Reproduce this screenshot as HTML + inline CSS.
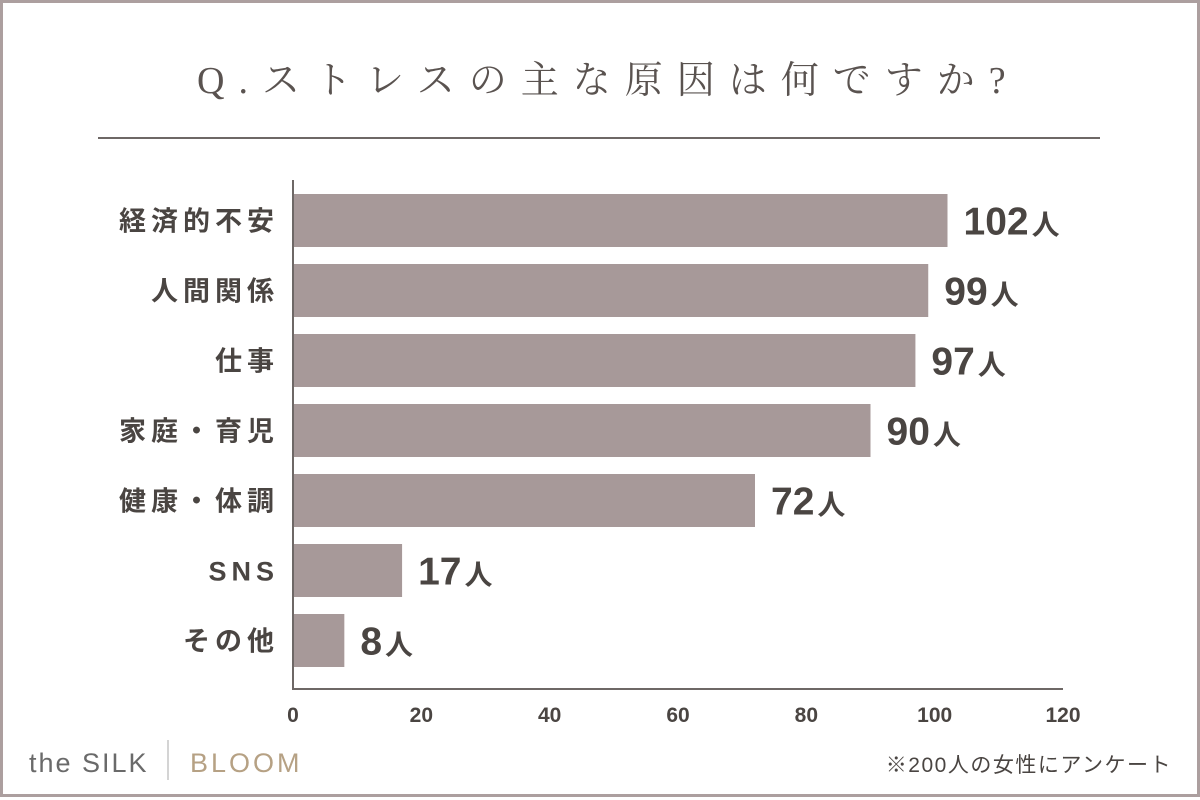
<!DOCTYPE html>
<html><head><meta charset="utf-8"><style>
html,body{margin:0;padding:0;background:#fff;width:1200px;height:800px;overflow:hidden}
svg{display:block}
</style></head><body>
<svg id="chart" width="1200" height="800" xmlns="http://www.w3.org/2000/svg">
<rect x="1.5" y="1.5" width="1197" height="794" fill="#fff" stroke="#ac9f9f" stroke-width="3"/>
<text x="197" y="93" font-family="'Liberation Serif','Noto Serif CJK SC',serif" font-size="38" letter-spacing="14" fill="#5a5350">Q.ストレスの主な原因は何ですか?</text>
<line x1="98" y1="138" x2="1100" y2="138" stroke="#6e6866" stroke-width="2"/>
<g id="bars"></g>
<line x1="293" y1="180" x2="293" y2="690" stroke="#6e6866" stroke-width="2"/>
<line x1="292" y1="689" x2="1063" y2="689" stroke="#6e6866" stroke-width="2"/>
<g id="ticks"></g>
<g>
<text x="29" y="772" font-family="'Liberation Sans',sans-serif" font-size="27" font-weight="300" letter-spacing="2" fill="#6a6a6a">the SILK</text>
<line x1="168" y1="740" x2="168" y2="780" stroke="#aaa" stroke-width="1"/>
<text x="190" y="772" font-family="'Liberation Sans',sans-serif" font-size="27" letter-spacing="3" fill="#b6a184">BLOOM</text>
</g>
<text x="1172" y="772" text-anchor="end" font-family="'Liberation Sans','Noto Sans CJK JP',sans-serif" font-size="21" letter-spacing="1.5" fill="#4a4542">※200人の女性にアンケート</text>
</svg>
<script>
const categories=["経済的不安","人間関係","仕事","家庭・育児","健康・体調","SNS","その他"];
const values=[102,99,97,90,72,17,8];
const xTicks=[0,20,40,60,80,100,120];
const NS="http://www.w3.org/2000/svg";
const x0=293,x1=1063,xMax=120;
function xs(v){return x0+(v/xMax)*(x1-x0);}
const top0=194,step=70,bh=53;
function ys(i){return top0+i*step;}
const gb=document.getElementById('bars');
categories.forEach((c,i)=>{
  const r=document.createElementNS(NS,'rect');
  
  
  r.setAttribute('x',x0);r.setAttribute('y',ys(i));
  r.setAttribute('width',xs(values[i])-x0);r.setAttribute('height',bh);
  r.setAttribute('fill','#a79999');gb.appendChild(r);
  const l=document.createElementNS(NS,'text');
  
  
  l.setAttribute('x',279);l.setAttribute('y',ys(i)+bh/2+10);
  l.setAttribute('text-anchor','end');
  l.setAttribute('font-family',"'Liberation Sans','Noto Sans CJK JP',sans-serif");
  l.setAttribute('font-size','27');l.setAttribute('font-weight','bold');
  l.setAttribute('letter-spacing','5');l.setAttribute('fill','#4a4542');
  l.textContent=c;gb.appendChild(l);
  const v=document.createElementNS(NS,'text');
  
  
  v.setAttribute('x',xs(values[i])+16);v.setAttribute('y',ys(i)+bh/2+14);
  v.setAttribute('font-family',"'Liberation Sans','Noto Sans CJK JP',sans-serif");
  v.setAttribute('font-weight','bold');v.setAttribute('fill','#4a4542');
  const t1=document.createElementNS(NS,'tspan');t1.setAttribute('font-size','39');t1.textContent=values[i];
  const t2=document.createElementNS(NS,'tspan');t2.setAttribute('font-size','28');t2.setAttribute('dx','3');t2.textContent='人';
  v.appendChild(t1);v.appendChild(t2);gb.appendChild(v);
});
const gt=document.getElementById('ticks');
xTicks.forEach(t=>{
  const e=document.createElementNS(NS,'text');
  
  
  e.setAttribute('x',xs(t));e.setAttribute('y',722);e.setAttribute('text-anchor','middle');
  e.setAttribute('font-family',"'Liberation Sans',sans-serif");
  e.setAttribute('font-size','21');e.setAttribute('font-weight','bold');e.setAttribute('fill','#4a4542');
  e.textContent=t;gt.appendChild(e);
});
</script>
</body></html>
